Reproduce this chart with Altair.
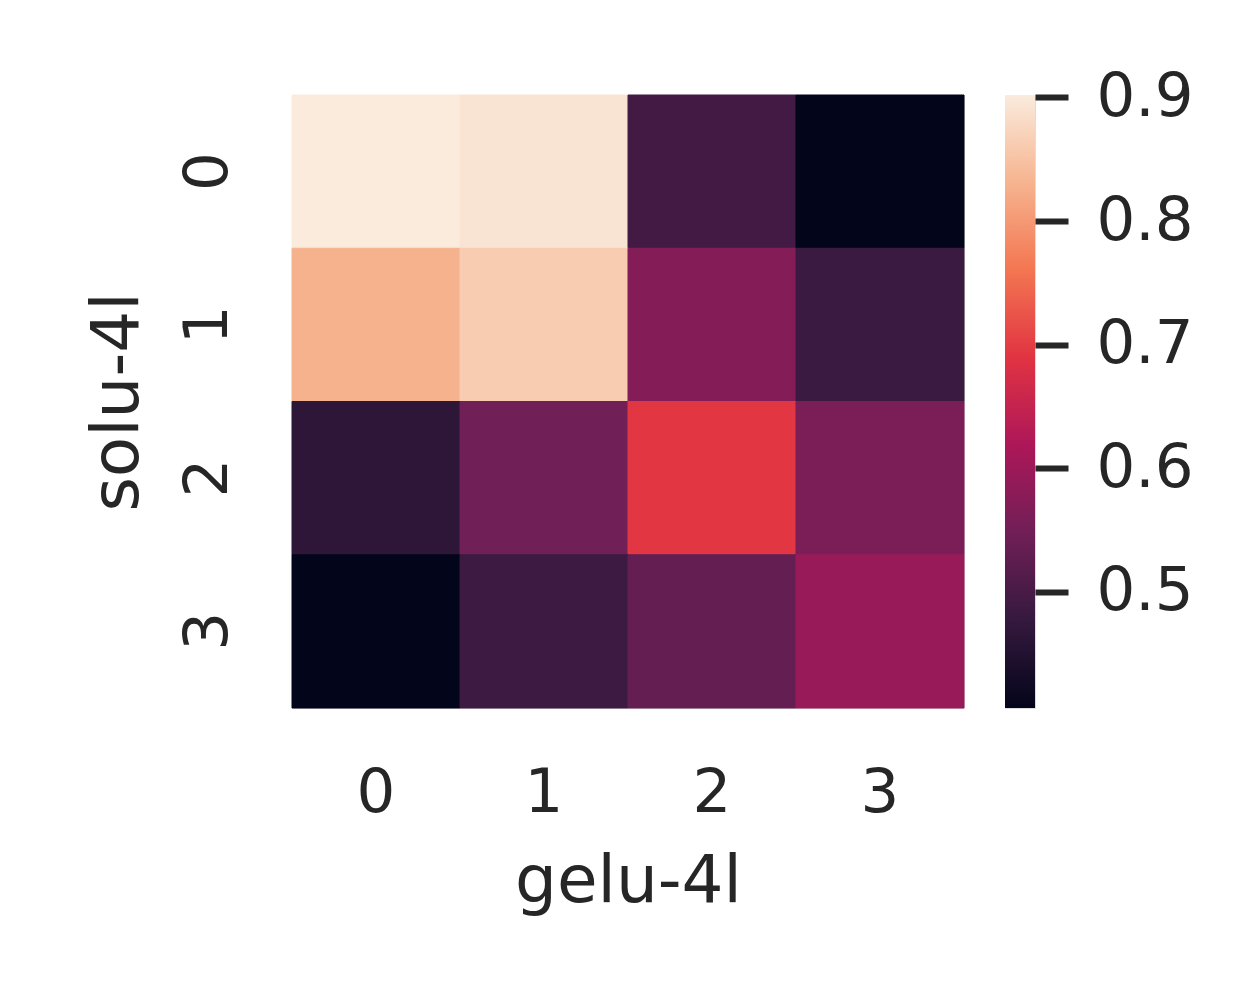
import altair as alt
import pandas as pd
import numpy as np

# Data
solu_rows = [0, 1, 2, 3]   # y axis: solu-4l
gelu_cols = [0, 1, 2, 3]   # x axis: gelu-4l
row0 = [0.902, 0.893, 0.493, 0.406]
row1 = [0.829, 0.862, 0.571, 0.483]
row2 = [0.466, 0.548, 0.694, 0.560]
row3 = [0.406, 0.486, 0.533, 0.595]
cbar_ticks = [0.5, 0.6, 0.7, 0.8, 0.9]

# rocket colormap stops
rocket = ["#03051a", "#35193e", "#701f57", "#ad1759",
          "#e13342", "#f37651", "#f6b48f", "#faebdd"]

grid = [row0, row1, row2, row3]
records = []
for r, vals in zip(solu_rows, grid):
    for c, v in zip(gelu_cols, vals):
        records.append({"solu": r, "gelu": c, "value": v})
df = pd.DataFrame(records)

vmin = float(df["value"].min())
vmax = float(df["value"].max())
stops = list(np.linspace(vmin, vmax, len(rocket)))
cscale = alt.Scale(domain=stops, range=rocket, interpolate="rgb")

FONT = "DejaVu Sans"
TXT = "#262626"

heat = alt.Chart(df).mark_rect(strokeWidth=1).encode(
    x=alt.X("gelu:O", title="gelu-4l",
            axis=alt.Axis(labelAngle=0, ticks=False, tickSize=0, domain=False,
                          labelPadding=55, labelFontSize=61, titleFontSize=66,
                          titlePadding=26, labelColor=TXT, titleColor=TXT,
                          titleFontWeight="normal", labelFont=FONT, titleFont=FONT)),
    y=alt.Y("solu:O", title="solu-4l",
            axis=alt.Axis(labelAngle=-90, labelAlign="center", labelBaseline="bottom",
                          ticks=False, tickSize=0, domain=False,
                          labelPadding=53, labelFontSize=61, titleFontSize=66,
                          titlePadding=26, labelColor=TXT, titleColor=TXT,
                          titleFontWeight="normal", labelFont=FONT, titleFont=FONT)),
    color=alt.Color("value:Q", scale=cscale, legend=None),
    stroke=alt.Stroke("value:Q", scale=cscale, legend=None),
).properties(width=672, height=613)

# colorbar: one rect spanning the data range, filled with the rocket gradient
cb = pd.DataFrame({"lo": [vmin], "hi": [vmax]})
grad = alt.Gradient(
    gradient="linear",
    stops=[alt.GradientStop(color=c, offset=i / (len(rocket) - 1)) for i, c in enumerate(rocket)],
    x1=0, x2=0, y1=1, y2=0,
)

bar = alt.Chart(cb).mark_rect(fill=grad, strokeWidth=0).encode(
    x=alt.value(0), x2=alt.value(30),
    y=alt.Y("lo:Q", scale=alt.Scale(domain=[vmin, vmax], nice=False, zero=False),
            axis=alt.Axis(orient="right", values=cbar_ticks, format=".1f",
                          tickSize=33, tickWidth=6, tickColor=TXT, domain=False,
                          grid=False, labelPadding=28, labelFontSize=61,
                          labelColor=TXT, labelFont=FONT, labelFlush=False,
                          labelOverlap=False, title=None)),
    y2="hi",
).properties(width=30, height=613)

chart = alt.hconcat(heat, bar, spacing=39).resolve_scale(
    color="independent", y="independent"
).properties(
    padding={"left": 75, "top": 57, "right": 5, "bottom": 5}
).configure_view(stroke=None).configure(background="white")

chart.save("out.html", embed_options={"renderer": "svg", "actions": False})
